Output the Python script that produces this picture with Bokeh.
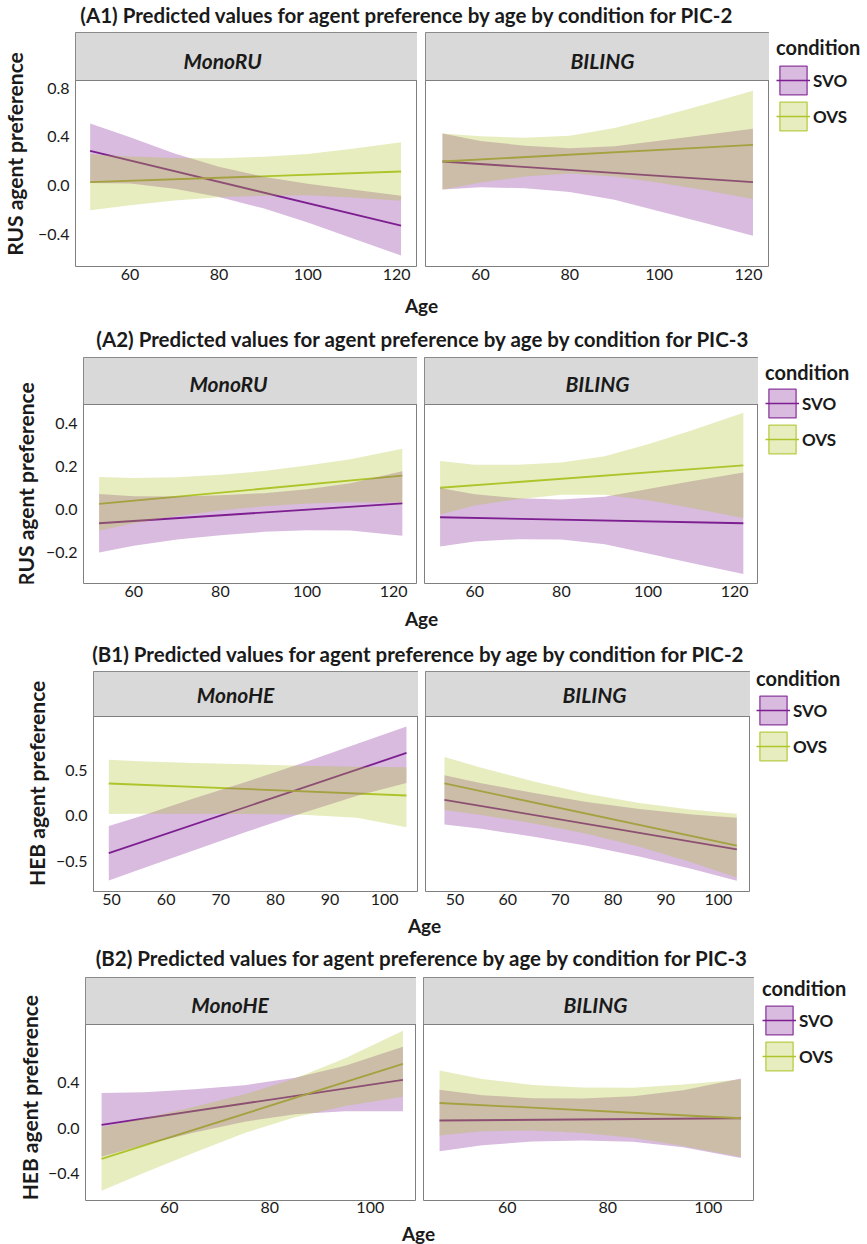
import numpy as np
from bokeh.plotting import figure
from bokeh.layouts import row, column
from bokeh.models import (Range1d, FixedTicker, ColumnDataSource, Legend, LegendItem,
                          CustomJSTickFormatter, BoxAnnotation)
from bokeh.core.properties import value
from bokeh.embed import file_html
from bokeh.resources import INLINE

FONT = "Lato"
SVO_COLOR = "#7D1F91"
OVS_COLOR = "#AFC52B"
BORDER = "#7f7f7f"
STRIP_FILL = "#d9d9d9"
TEXT = "#1a1a1a"

conditions = ["SVO", "OVS"]

# ------------------------------------------------------------------ data
# (A1) PIC-2, Russian
a1_mono_age = [51, 60, 70, 80, 90, 100, 110, 121]
a1_mono_svo_line = [0.285, -0.33]
a1_mono_svo_lo = [0.02, 0.016, -0.027, -0.095, -0.188, -0.305, -0.433, -0.575]
a1_mono_svo_hi = [0.51, 0.396, 0.263, 0.155, 0.072, 0.015, -0.033, -0.085]
a1_mono_ovs_line = [0.027, 0.115]
a1_mono_ovs_lo = [-0.203, -0.162, -0.124, -0.097, -0.084, -0.081, -0.099, -0.125]
a1_mono_ovs_hi = [0.257, 0.238, 0.226, 0.223, 0.236, 0.259, 0.301, 0.355]

a1_bil_age = [51.5, 60, 70, 80, 90, 100, 110, 121]
a1_bil_svo_line = [0.197, 0.027]
a1_bil_svo_lo = [-0.033, -0.014, -0.023, -0.053, -0.117, -0.212, -0.306, -0.413]
a1_bil_svo_hi = [0.427, 0.366, 0.327, 0.307, 0.323, 0.368, 0.414, 0.467]
a1_bil_ovs_line = [0.197, 0.334]
a1_bil_ovs_lo = [-0.033, 0.024, 0.073, 0.098, 0.073, 0.023, -0.037, -0.111]
a1_bil_ovs_hi = [0.427, 0.404, 0.393, 0.408, 0.473, 0.563, 0.663, 0.779]

# (A2) PIC-3, Russian
a2_mono_age = [52, 60, 70, 80, 90, 100, 110, 122]
a2_mono_svo_line = [-0.064, 0.028]
a2_mono_svo_lo = [-0.2, -0.169, -0.14, -0.12, -0.104, -0.096, -0.098, -0.122]
a2_mono_svo_hi = [0.072, 0.062, 0.06, 0.066, 0.076, 0.094, 0.122, 0.178]
a2_mono_ovs_line = [0.026, 0.157]
a2_mono_ovs_lo = [-0.099, -0.064, -0.03, -0.005, 0.015, 0.028, 0.034, 0.032]
a2_mono_ovs_hi = [0.151, 0.146, 0.15, 0.161, 0.179, 0.204, 0.234, 0.282]

a2_bil_age = [52, 60, 70, 80, 90, 100, 110, 122]
a2_bil_svo_line = [-0.036, -0.064]
a2_bil_svo_lo = [-0.172, -0.149, -0.138, -0.14, -0.161, -0.205, -0.249, -0.3]
a2_bil_svo_hi = [0.1, 0.071, 0.052, 0.046, 0.059, 0.095, 0.131, 0.172]
a2_bil_ovs_line = [0.101, 0.205]
a2_bil_ovs_lo = [-0.023, 0.018, 0.048, 0.068, 0.068, 0.043, 0.007, -0.04]
a2_bil_ovs_hi = [0.225, 0.208, 0.208, 0.218, 0.248, 0.303, 0.367, 0.45]

# (B1) PIC-2, Hebrew
b1_mono_age = [49.5, 55, 65, 75, 85, 95, 104]
b1_mono_svo_line = [-0.41, 0.69]
b1_mono_svo_lo = [-0.71, -0.59, -0.38, -0.17, 0.03, 0.22, 0.36]
b1_mono_svo_hi = [-0.11, -0.01, 0.19, 0.38, 0.58, 0.79, 0.98]
b1_mono_ovs_line = [0.355, 0.223]
b1_mono_ovs_lo = [0.02, 0.022, 0.022, 0.02, 0.012, -0.02, -0.125]
b1_mono_ovs_hi = [0.615, 0.6, 0.58, 0.565, 0.55, 0.54, 0.534]

b1_bil_age = [48, 55, 65, 75, 85, 95, 103.5]
b1_bil_svo_line = [0.176, -0.367]
b1_bil_svo_lo = [-0.094, -0.142, -0.23, -0.328, -0.446, -0.584, -0.712]
b1_bil_svo_hi = [0.446, 0.358, 0.25, 0.152, 0.074, 0.016, -0.022]
b1_bil_ovs_line = [0.355, -0.326]
b1_bil_ovs_lo = [0.065, 0.009, -0.084, -0.197, -0.34, -0.512, -0.676]
b1_bil_ovs_hi = [0.645, 0.529, 0.376, 0.243, 0.14, 0.068, 0.024]

# (B2) PIC-3, Hebrew
b2_mono_age = [46.5, 55, 65, 75, 85, 95, 106.5]
b2_mono_svo_line = [0.028, 0.424]
b2_mono_svo_lo = [-0.252, -0.146, -0.04, 0.056, 0.122, 0.148, 0.148]
b2_mono_svo_hi = [0.308, 0.314, 0.34, 0.376, 0.442, 0.548, 0.714]
b2_mono_ovs_line = [-0.271, 0.564]
b2_mono_ovs_lo = [-0.551, -0.393, -0.214, -0.044, 0.095, 0.194, 0.274]
b2_mono_ovs_hi = [0.009, 0.087, 0.186, 0.296, 0.435, 0.614, 0.854]

b2_bil_age = [46.5, 55, 65, 75, 85, 95, 106.5]
b2_bil_svo_line = [0.066, 0.086]
b2_bil_svo_lo = [-0.204, -0.151, -0.118, -0.11, -0.121, -0.168, -0.264]
b2_bil_svo_hi = [0.336, 0.289, 0.262, 0.26, 0.279, 0.332, 0.436]
b2_bil_ovs_line = [0.22, 0.086]
b2_bil_ovs_lo = [-0.065, -0.029, -0.021, -0.043, -0.086, -0.158, -0.254]
b2_bil_ovs_hi = [0.505, 0.431, 0.379, 0.357, 0.354, 0.382, 0.426]

# ticks
a_xticks = [60, 80, 100, 120]
b1_xticks = [50, 60, 70, 80, 90, 100]
b2_xticks = [60, 80, 100]
a1_yticks = [-0.4, 0.0, 0.4, 0.8]
a2_yticks = [-0.2, 0.0, 0.2, 0.4]
b1_yticks = [-0.5, 0.0, 0.5]
b2_yticks = [-0.4, 0.0, 0.4]


def facet_data(age, svo_line, svo_lo, svo_hi, ovs_line, ovs_lo, ovs_hi):
    return dict(age=age, svo_line=svo_line, svo_lo=svo_lo, svo_hi=svo_hi,
                ovs_line=ovs_line, ovs_lo=ovs_lo, ovs_hi=ovs_hi)


GROUPS = [
    dict(title="(A1) Predicted values for agent preference by age by condition for PIC-2",
         ylabel="RUS agent preference", facets=["MonoRU", "BILING"],
         data=[facet_data(a1_mono_age, a1_mono_svo_line, a1_mono_svo_lo, a1_mono_svo_hi,
                          a1_mono_ovs_line, a1_mono_ovs_lo, a1_mono_ovs_hi),
               facet_data(a1_bil_age, a1_bil_svo_line, a1_bil_svo_lo, a1_bil_svo_hi,
                          a1_bil_ovs_line, a1_bil_ovs_lo, a1_bil_ovs_hi)],
         xr=[(47.7, 124.7), (47.7, 124.7)], yr=(-0.666, 0.863),
         xticks=[a_xticks, a_xticks], yticks=a1_yticks, xstand=2,
         title_h=32, strip_h=48, frame_h=186, xaxis_h=24, age_h=30,
         ylab_w=34, left_w=383, left_b=39, right_w=352, right_b=8, legend_w=98,
         title_x=407, title_y=14, age_x=421, age_y=15, ylab_x=14, ylab_y=134,
         strip_off=(-24, 5), strip_dy=4, leg_title=47, leg_key_top=66, leg_key_left=10),
    dict(title="(A2) Predicted values for agent preference by age by condition for PIC-3",
         ylabel="RUS agent preference", facets=["MonoRU", "BILING"],
         data=[facet_data(a2_mono_age, a2_mono_svo_line, a2_mono_svo_lo, a2_mono_svo_hi,
                          a2_mono_ovs_line, a2_mono_ovs_lo, a2_mono_ovs_hi),
               facet_data(a2_bil_age, a2_bil_svo_line, a2_bil_svo_lo, a2_bil_svo_hi,
                          a2_bil_ovs_line, a2_bil_ovs_lo, a2_bil_ovs_hi)],
         xr=[(48.4, 125.5), (48.4, 125.5)], yr=(-0.344, 0.488),
         xticks=[a_xticks, a_xticks], yticks=a2_yticks, xstand=2,
         title_h=37, strip_h=47, frame_h=179, xaxis_h=23, age_h=24,
         ylab_w=42, left_w=375, left_b=41, right_w=341, right_b=7, legend_w=109,
         title_x=423, title_y=18, age_x=421, age_y=12, ylab_x=25, ylab_y=139.5,
         strip_off=(-22, 6), strip_dy=2.5, leg_title=52, leg_key_top=69, leg_key_left=10),
    dict(title="(B1) Predicted values for agent preference by age by condition for PIC-2",
         ylabel="HEB agent preference", facets=["MonoHE", "BILING"],
         data=[facet_data(b1_mono_age, b1_mono_svo_line, b1_mono_svo_lo, b1_mono_svo_hi,
                          b1_mono_ovs_line, b1_mono_ovs_lo, b1_mono_ovs_hi),
               facet_data(b1_bil_age, b1_bil_svo_line, b1_bil_svo_lo, b1_bil_svo_hi,
                          b1_bil_ovs_line, b1_bil_ovs_lo, b1_bil_ovs_hi)],
         xr=[(46.7, 106.2), (44.4, 106.1)], yr=(-0.83, 1.09),
         xticks=[b1_xticks, b1_xticks], yticks=b1_yticks, xstand=2,
         title_h=41, strip_h=45, frame_h=175, xaxis_h=22, age_h=27,
         ylab_w=52, left_w=366, left_b=41, right_w=332, right_b=7, legend_w=117,
         title_x=418.5, title_y=23, age_x=424, age_y=12, ylab_x=36, ylab_y=123,
         strip_off=(-20.5, 6.5), strip_dy=0.5, leg_title=48, leg_key_top=66, leg_key_left=9),
    dict(title="(B2) Predicted values for agent preference by age by condition for PIC-3",
         ylabel="HEB agent preference", facets=["MonoHE", "BILING"],
         data=[facet_data(b2_mono_age, b2_mono_svo_line, b2_mono_svo_lo, b2_mono_svo_hi,
                          b2_mono_ovs_line, b2_mono_ovs_lo, b2_mono_ovs_hi),
               facet_data(b2_bil_age, b2_bil_svo_line, b2_bil_svo_lo, b2_bil_svo_hi,
                          b2_bil_ovs_line, b2_bil_ovs_lo, b2_bil_ovs_hi)],
         xr=[(43.3, 109.2), (43.3, 109.2)], yr=(-0.637, 0.91),
         xticks=[b2_xticks, b2_xticks], yticks=b2_yticks, xstand=1,
         title_h=37, strip_h=47, frame_h=176, xaxis_h=21, age_h=23,
         ylab_w=44, left_w=372, left_b=41, right_w=338, right_b=7, legend_w=113,
         title_x=422, title_y=17, age_x=418, age_y=11.5, ylab_x=28.5, ylab_y=131.5,
         strip_off=(-21, 6.5), strip_dy=3, leg_title=48, leg_key_top=66, leg_key_left=11),
]

TITLE_SIZE = "20.5px"
STRIP_SIZE = "21px"
YTITLE_SIZE = "21px"
AGE_SIZE = "19px"
TICK_SIZE = "16px"
LEG_TITLE_PX = 20
LEG_LABEL_SIZE = "17px"
GLYPH_W, GLYPH_H = 34, 36

Y_FMT = CustomJSTickFormatter(code="return tick.toFixed(1).replace('-', '\\u2212');")


def blank_fig(width, height, **kw):
    f = figure(width=width, height=height,
               x_range=kw.get("xr", Range1d(0, width)), y_range=kw.get("yr", Range1d(height, 0)),
               toolbar_location=None, output_backend="svg",
               min_border_left=kw.get("bl", 0), min_border_right=0,
               min_border_top=kw.get("bt", 0), min_border_bottom=0,
               x_axis_location=None, y_axis_location=None)
    f.grid.visible = False
    f.outline_line_color = None
    f.background_fill_color = "white"
    f.border_fill_color = "white"
    return f


def add_text(f, x, y, s, size, style="normal", angle=0.0):
    f.text(x=[x], y=[y], text=[s], angle=angle,
           text_align="center", text_baseline="middle",
           text_font=value(FONT), text_font_size=size, text_font_style=style,
           text_color=TEXT)


def style_axis(ax, standoff):
    ax.axis_line_color = None
    ax.major_tick_line_color = None
    ax.minor_tick_line_color = None
    ax.major_tick_out = 0
    ax.major_tick_in = 0
    ax.minor_tick_out = 0
    ax.minor_tick_in = 0
    ax.major_label_standoff = standoff
    ax.major_label_text_font = FONT
    ax.major_label_text_font_size = TICK_SIZE
    ax.major_label_text_color = TEXT


def panel(g, side):
    """One facet: a strip on top of the plotting region, in one figure."""
    width = g["left_w"] if side == 0 else g["right_w"]
    bl = g["left_b"] if side == 0 else g["right_b"]
    fw = width - bl
    x0, x1 = g["xr"][side]
    ylo, yhi = g["yr"]
    upp = (yhi - ylo) / g["frame_h"]            # data units per pixel (y)
    ytop = yhi + g["strip_h"] * upp             # strip sits above the data region
    height = g["strip_h"] + g["frame_h"] + g["xaxis_h"]
    p = figure(width=width, height=height, x_range=Range1d(x0, x1), y_range=Range1d(ylo, ytop),
               toolbar_location=None, output_backend="svg",
               min_border_left=bl, min_border_right=0, min_border_top=0,
               min_border_bottom=g["xaxis_h"],
               y_axis_location="left" if side == 0 else None)
    p.grid.visible = False
    p.outline_line_color = BORDER
    p.outline_line_width = 1
    p.background_fill_color = "white"
    p.border_fill_color = "white"
    xa = p.xaxis[0]
    xa.ticker = FixedTicker(ticks=g["xticks"][side])
    style_axis(xa, g["xstand"])
    if side == 0:
        ya = p.yaxis[0]
        ya.ticker = FixedTicker(ticks=g["yticks"])
        ya.formatter = Y_FMT
        style_axis(ya, 6)

    # facet strip
    p.add_layout(BoxAnnotation(bottom=yhi, fill_color=STRIP_FILL, fill_alpha=1.0,
                               line_color=BORDER, line_alpha=1.0, line_width=1,
                               level="underlay"))
    xpp = (x1 - x0) / fw
    p.text(x=[(x0 + x1) / 2 + g["strip_off"][side] * xpp],
           y=[(yhi + ytop) / 2 - g["strip_dy"] * upp],
           text=[g["facets"][side]], text_align="center", text_baseline="middle",
           text_font=value(FONT), text_font_size=STRIP_SIZE, text_font_style="bold italic",
           text_color=TEXT)

    d = g["data"][side]
    ends = [d["age"][0], d["age"][-1]]
    p.line(ends, d["svo_line"], line_color=SVO_COLOR, line_width=1.8)
    p.line(ends, d["ovs_line"], line_color=OVS_COLOR, line_width=1.8)
    src = ColumnDataSource(dict(age=d["age"], svo_lo=d["svo_lo"], svo_hi=d["svo_hi"],
                                ovs_lo=d["ovs_lo"], ovs_hi=d["ovs_hi"]))
    p.varea(x="age", y1="svo_lo", y2="svo_hi", source=src, fill_color=SVO_COLOR, fill_alpha=0.3)
    p.varea(x="age", y1="ovs_lo", y2="ovs_hi", source=src, fill_color=OVS_COLOR, fill_alpha=0.3)
    return p


def legend_fig(width, height, title_c, key_top, key_left):
    th = 1.2 * LEG_TITLE_PX
    bt = int(round(title_c - th / 2))
    inset_y = 0.1 * GLYPH_H
    ts = int(round(key_top - inset_y - bt - th))
    bl = int(round(key_left - 0.1 * GLYPH_W))
    lg = blank_fig(width, height, bl=bl, bt=bt, xr=Range1d(0, 1), yr=Range1d(0, 1))
    items = []
    for cond, col in zip(conditions, [SVO_COLOR, OVS_COLOR]):
        box = lg.quad(left=[np.nan], right=[np.nan], top=[np.nan], bottom=[np.nan],
                      fill_color=col, fill_alpha=0.3, line_color=col, line_alpha=0.85,
                      line_width=1.3)
        ln = lg.line(x=[np.nan], y=[np.nan], line_color=col, line_width=1.6)
        items.append(LegendItem(label=cond, renderers=[box, ln]))
    leg = Legend(items=items, title="condition", location="top_left", margin=0, padding=0,
                 spacing=-3, glyph_width=GLYPH_W, glyph_height=GLYPH_H, label_standoff=3,
                 border_line_color=None, background_fill_alpha=0, title_standoff=ts)
    leg.title_text_font = FONT
    leg.title_text_font_size = "%dpx" % LEG_TITLE_PX
    leg.title_text_font_style = "bold"
    leg.title_text_color = TEXT
    leg.label_text_font = FONT
    leg.label_text_font_size = LEG_LABEL_SIZE
    leg.label_text_font_style = "bold"
    leg.label_text_color = TEXT
    lg.add_layout(leg)
    return lg


groups = []
for g in GROUPS:
    main_w = g["ylab_w"] + g["left_w"] + g["right_w"]
    body_h = g["strip_h"] + g["frame_h"] + g["xaxis_h"]
    total_h = g["title_h"] + body_h + g["age_h"]

    tf = blank_fig(main_w, g["title_h"])
    add_text(tf, g["title_x"], g["title_y"], g["title"], TITLE_SIZE, "bold")

    yl = blank_fig(g["ylab_w"], body_h)
    add_text(yl, g["ylab_x"], g["ylab_y"], g["ylabel"], YTITLE_SIZE, "bold", angle=np.pi / 2)

    pl = panel(g, 0)
    pr = panel(g, 1)

    af = blank_fig(main_w, g["age_h"])
    add_text(af, g["age_x"], g["age_y"], "Age", AGE_SIZE, "bold")

    main = column(tf, row(yl, pl, pr), af)
    lg = legend_fig(g["legend_w"], total_h, g["leg_title"], g["leg_key_top"], g["leg_key_left"])
    groups.append(row(main, lg))

page = column(*groups)
open("out.html", "w").write(file_html(page, INLINE))
